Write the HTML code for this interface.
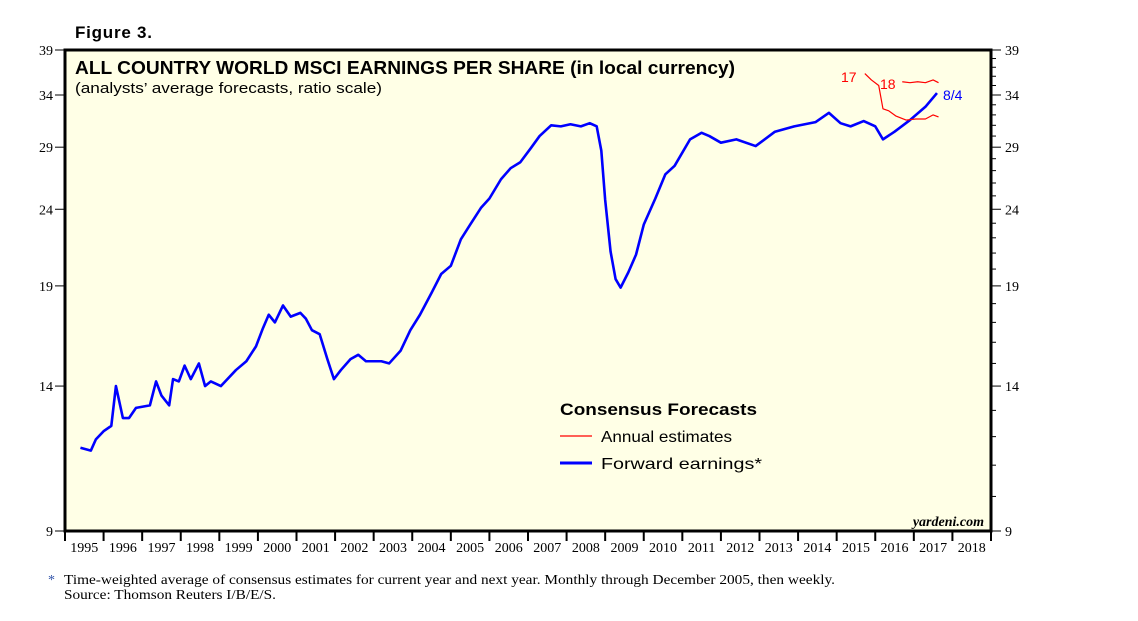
<!DOCTYPE html>
<html><head><meta charset="utf-8"><style>
body{margin:0;background:#fff;}
svg{display:block;font-family:"Liberation Sans",sans-serif;}
</style></head><body>
<svg id="c" width="1138" height="621">
<text x="75" y="38" font-size="17" font-weight="bold" textLength="77">Figure 3.</text>
<rect x="65" y="50" width="926" height="481" fill="#ffffe6" stroke="#000" stroke-width="3"/>
<text x="75" y="74" font-size="18" font-weight="bold" textLength="660" lengthAdjust="spacingAndGlyphs">ALL COUNTRY WORLD MSCI EARNINGS PER SHARE (in local currency)</text>
<text x="75" y="93" font-size="15" textLength="307" lengthAdjust="spacingAndGlyphs">(analysts’ average forecasts, ratio scale)</text>
<g id="ax"></g><g id="ser"></g>
<text x="560" y="415" font-size="17" font-weight="bold" textLength="197" lengthAdjust="spacingAndGlyphs">Consensus Forecasts</text>
<line x1="560" y1="436" x2="592" y2="436" stroke="red" stroke-width="1.2"/>
<text x="601" y="442" font-size="16" textLength="131" lengthAdjust="spacingAndGlyphs">Annual estimates</text>
<line x1="560" y1="463" x2="592" y2="463" stroke="blue" stroke-width="3"/>
<text x="601" y="469" font-size="16" textLength="161" lengthAdjust="spacingAndGlyphs">Forward earnings*</text>
<text x="984" y="526" font-size="14" font-style="italic" font-weight="bold" text-anchor="end" font-family="Liberation Serif,serif">yardeni.com</text>
<text x="841" y="82" font-size="14" fill="red">17</text>
<text x="880" y="89" font-size="14" fill="red">18</text>
<text x="943" y="100" font-size="14" fill="blue">8/4</text>
<text x="48" y="584" font-size="14" font-family="Liberation Serif,serif" fill="#3355aa">*</text>
<text x="64" y="584" font-size="14" font-family="Liberation Serif,serif" textLength="771" lengthAdjust="spacingAndGlyphs">Time-weighted average of consensus estimates for current year and next year. Monthly through December 2005, then weekly.</text>
<text x="64" y="599" font-size="14" font-family="Liberation Serif,serif" textLength="212" lengthAdjust="spacingAndGlyphs">Source: Thomson Reuters I/B/E/S.</text>
</svg>
<script>
const yTicks=[9,14,19,24,29,34,39];
const years=[1995,1996,1997,1998,1999,2000,2001,2002,2003,2004,2005,2006,2007,2008,2009,2010,2011,2012,2013,2014,2015,2016,2017,2018];
const fwdT=[1995.4,1995.67,1995.8,1996.0,1996.2,1996.32,1996.5,1996.66,1996.84,1997.2,1997.36,1997.5,1997.7,1997.8,1997.95,1998.1,1998.26,1998.47,1998.63,1998.78,1999.04,1999.43,1999.7,1999.95,2000.13,2000.28,2000.44,2000.65,2000.85,2001.1,2001.24,2001.4,2001.6,2001.8,2001.97,2002.15,2002.4,2002.6,2002.8,2003.2,2003.4,2003.7,2003.95,2004.2,2004.5,2004.75,2005.0,2005.26,2005.5,2005.78,2006.0,2006.3,2006.55,2006.8,2007.07,2007.3,2007.6,2007.85,2008.1,2008.37,2008.6,2008.78,2008.9,2009.0,2009.14,2009.27,2009.4,2009.6,2009.8,2010.0,2010.3,2010.56,2010.8,2011.2,2011.5,2011.7,2012.0,2012.4,2012.9,2013.4,2013.9,2014.45,2014.8,2015.1,2015.36,2015.7,2016.0,2016.2,2016.5,2016.9,2017.3,2017.6];
const fwdV=[11.6,11.5,11.9,12.2,12.4,14.0,12.7,12.7,13.1,13.2,14.2,13.6,13.2,14.3,14.2,14.9,14.3,15.0,14.0,14.2,14.0,14.7,15.1,15.8,16.7,17.4,17.0,17.9,17.3,17.5,17.2,16.6,16.4,15.2,14.3,14.7,15.2,15.4,15.1,15.1,15.0,15.6,16.6,17.4,18.6,19.7,20.2,21.9,22.9,24.1,24.8,26.3,27.2,27.7,28.9,30.0,31.0,30.9,31.1,30.9,31.2,30.9,28.7,24.7,21.1,19.4,18.9,19.8,20.9,22.9,24.8,26.7,27.4,29.7,30.3,30.0,29.4,29.7,29.1,30.4,30.9,31.3,32.2,31.2,30.9,31.4,30.9,29.7,30.4,31.5,32.8,34.2];
const a17T=[2015.73,2015.9,2016.09,2016.2,2016.35,2016.53,2016.8,2017.05,2017.3,2017.5,2017.64];
const a17V=[36.3,35.6,35.0,32.6,32.4,31.9,31.5,31.6,31.6,32.0,31.8];
const a18T=[2016.7,2016.9,2017.1,2017.3,2017.5,2017.64];
const a18V=[35.4,35.3,35.4,35.3,35.6,35.3];
const L=65,R=991,T=50,B=531;
const x=t=>L+(t-1995)/24*(R-L);
const y=v=>B-Math.log(v/9)/Math.log(39/9)*(B-T);
const NS="http://www.w3.org/2000/svg";
function mk(p,tag,at){const e=document.createElementNS(NS,tag);for(const k in at)e.setAttribute(k,at[k]);p.appendChild(e);return e;}
const ax=document.getElementById('ax');
for(const v of yTicks){
 const l=mk(ax,'line',{x1:L-10,x2:L,y1:y(v),y2:y(v),stroke:'#000'});
 
 
 const r=mk(ax,'line',{x1:R,x2:R+10,y1:y(v),y2:y(v),stroke:'#000'});
 
 
 const t1=mk(ax,'text',{x:L-12,y:y(v)+5,'text-anchor':'end','font-size':14,'font-family':'Liberation Serif,serif'});t1.textContent=v;
 
 
 const t2=mk(ax,'text',{x:R+14,y:y(v)+5,'font-size':14,'font-family':'Liberation Serif,serif'});t2.textContent=v;
 
 
}
for(let v=10;v<39;v++){if(yTicks.includes(v))continue;
 const m=mk(ax,'line',{x1:R,x2:R+5,y1:y(v),y2:y(v),stroke:'#000'});
 
 
}
years.forEach((yr,i)=>{
 const l=mk(ax,'line',{x1:x(yr),x2:x(yr),y1:B,y2:B+10,stroke:'#000','stroke-width':2});
 
 
 const t=mk(ax,'text',{x:x(yr+0.5),y:B+21,'text-anchor':'middle','font-size':14,'font-family':'Liberation Serif,serif'});t.textContent=yr;
 
 
});
mk(ax,'line',{x1:R,x2:R,y1:B,y2:B+10,stroke:'#000','stroke-width':2});
const ser=document.getElementById('ser');
function line(T_,V,col,w,name){
 const p=mk(ser,'polyline',{points:T_.map((t,i)=>x(t)+','+y(V[i])).join(' '),fill:'none',stroke:col,'stroke-width':w,'stroke-linejoin':'round'});
 
 
}
line(fwdT,fwdV,'blue',2.6,'forward-earnings-line');
line(a17T,a17V,'red',1.2,'annual-2017-line');
line(a18T,a18V,'red',1.2,'annual-2018-line');
</script>
</body></html>
